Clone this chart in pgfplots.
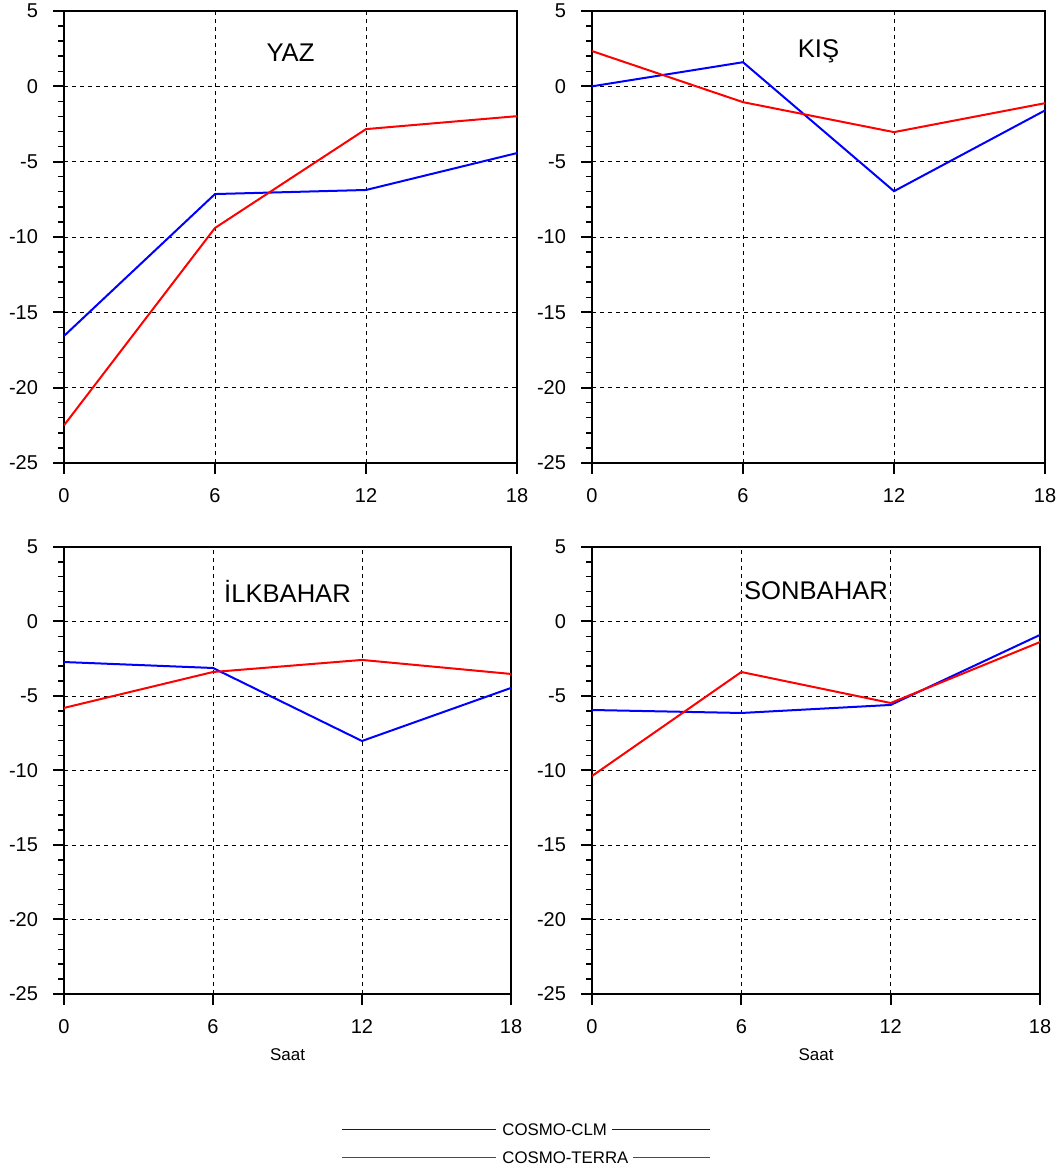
\documentclass[border=0pt]{standalone}
\usepackage{fontspec}
\setmainfont{Liberation Sans}
\usepackage{pgfplots}
\pgfplotsset{compat=1.18}

% one style for all four panels
\pgfplotsset{
  panel/.style={
    scale only axis,
    anchor=south west,
    width=226.5pt, height=226pt,
    xmin=0, xmax=18, ymin=-25, ymax=5,
    xtick={0,6,12,18},
    ytick={-25,-20,...,5},
    minor y tick num=4,
    tick pos=left,
    tick align=outside,
    major tick length=5.5pt,
    minor tick length=3pt,
    axis line style={line width=1pt},
    every tick/.style={black, line width=1pt},
    every minor tick/.style={black, line width=0.7pt},
    grid=major,
    major grid style={black, line width=0.45pt, dash pattern=on 2pt off 2pt},
    tick label style={font=\fontsize{10}{12}\selectfont},
    xticklabel shift=3.5pt,
    yticklabel shift=4pt,
    /pgf/number format/assume math mode=true,
    every axis plot/.append style={line width=1pt, no markers},
  },
  saat/.style={
    xlabel={Saat},
    xlabel style={font=\fontsize{8.5}{10}\selectfont, at={(rel axis cs:0.5,0)}, anchor=center, yshift=-30.5pt},
  },
}

\begin{document}
\begin{tikzpicture}
\useasboundingbox (0,0) rectangle (530pt,586pt);

% YAZ
\begin{axis}[panel, at={(32pt,354.5pt)}]
  \addplot[blue] coordinates {(0,-16.57) (6,-7.15) (12,-6.88) (18,-4.43)};
  \addplot[red] coordinates {(0,-22.5) (6,-9.4) (12,-2.84) (18,-1.98)};
  \node[font=\fontsize{12.8}{15}\selectfont] at (axis cs:9,2.2) {YAZ};
\end{axis}

% KIS
\begin{axis}[panel, at={(296pt,354.5pt)}]
  \addplot[blue] coordinates {(0,0) (6,1.6) (12,-6.96) (18,-1.6)};
  \addplot[red] coordinates {(0,2.34) (6,-1.05) (12,-3.04) (18,-1.12)};
  \node[font=\fontsize{12.8}{15}\selectfont] at (axis cs:9,2.3) {KIŞ};
\end{axis}

% ILKBAHAR
\begin{axis}[panel, saat, at={(32pt,89pt)}, width=223.5pt, height=223.5pt]
  \addplot[blue] coordinates {(0,-2.72) (6,-3.12) (12,-8.02) (18,-4.46)};
  \addplot[red] coordinates {(0,-5.8) (6,-3.39) (12,-2.58) (18,-3.52)};
  \node[font=\fontsize{12.8}{15}\selectfont] at (axis cs:9,2.0) {İLKBAHAR};
\end{axis}

% SONBAHAR
\begin{axis}[panel, saat, at={(296pt,89pt)}, width=224pt, height=223.5pt]
  \addplot[blue] coordinates {(0,-5.94) (6,-6.14) (12,-5.6) (18,-0.9)};
  \addplot[red] coordinates {(0,-10.37) (6,-3.39) (12,-5.47) (18,-1.38)};
  \node[font=\fontsize{12.8}{15}\selectfont] at (axis cs:9,2.05) {SONBAHAR};
\end{axis}

% legend below the panels
\begin{scope}[x=0.5pt, y=0.5pt, font=\fontsize{8.4}{10}\selectfont]
  \draw[blue, line width=0.6pt] (342,42.7) -- (496,42.7);
  \node[anchor=west, inner sep=0pt] at (502,42.7) {COSMO-CLM};
  \draw[blue, line width=0.6pt] (612,42.7) -- (710,42.7);
  \draw[red, line width=0.6pt] (342,14.7) -- (496,14.7);
  \node[anchor=west, inner sep=0pt] at (502,14.7) {COSMO-TERRA};
  \draw[red, line width=0.6pt] (633,14.7) -- (710,14.7);
\end{scope}
\end{tikzpicture}
\end{document}
